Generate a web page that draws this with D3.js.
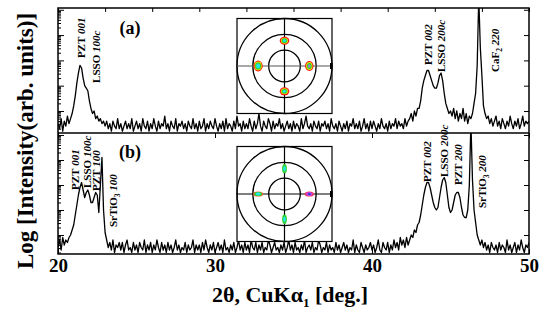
<!DOCTYPE html>
<html>
<head>
<meta charset="utf-8">
<script src="https://cdn.jsdelivr.net/npm/d3@7/dist/d3.min.js"></script>
<style>
  body { margin: 0; background: #fff; }
  svg { display: block; }
  text { font-family: "Liberation Serif", "Times New Roman", serif; font-weight: bold; fill: #000; }
</style>
</head>
<body>
<div id="chart"></div>
<script>
// 2-theta grid (deg), 0.1 deg step
const twoTheta = d3.range(0, 301).map(i => 20 + i / 10);

// log intensity, in tenths of a decade (panel a)
const logIntensityA = [
  5,3,7,2,6,4,8,5,7,9,
  12,16,21,25,28,27,23,20,19,18,
  14,11,9,10,7,8,6,7,5,6,
  4,6,3,5,2,6,4,3,7,3,
  5,2,4,6,3,5,3,7,2,4,
  6,3,5,2,7,4,3,6,2,5,
  3,7,4,2,6,3,5,4,8,3,
  5,2,6,4,3,7,2,5,4,6,
  3,5,2,6,4,3,7,3,5,2,
  6,3,4,7,2,5,3,6,4,3,
  7,4,2,5,3,6,2,7,3,5,
  4,2,6,3,8,4,5,2,6,3,
  5,3,7,4,2,6,3,5,9,4,
  2,6,4,3,7,5,2,6,3,5,
  4,7,3,5,2,4,6,3,5,2,
  6,3,5,4,2,7,3,5,8,4,
  3,5,2,6,4,3,6,2,5,4,
  6,3,5,2,7,4,3,5,2,6,
  4,2,5,3,6,2,5,4,7,3,
  5,3,6,2,4,7,3,5,2,6,
  3,6,4,2,5,3,7,4,3,5,
  2,6,3,5,4,7,3,6,4,5,
  3,7,4,6,7,9,6,10,8,11,
  11,14,19,22,24,26,26,24,22,20,
  19,19,21,24,25,22,17,13,11,9,
  10,8,11,7,10,6,9,7,11,6,
  9,5,8,7,9,13,17,28,55,35,
  24,12,9,7,8,5,7,4,6,8,
  4,6,3,7,5,3,6,4,8,5,
  3,6,4,7,3,5,8,4,6,5,
  6
];

// panel b
const logIntensityB = [
  5,8,4,9,6,8,7,9,10,12,
  14,18,22,26,29,31,28,25,27,28,
  26,23,23,25,27,26,19,30,41,20,
  11,8,5,7,4,8,3,6,5,7,
  4,7,3,6,8,4,5,3,7,4,
  6,3,7,5,4,8,3,6,4,7,
  3,6,4,8,5,3,7,4,6,3,
  7,4,6,3,5,8,4,6,3,5,
  4,7,3,6,4,5,8,3,6,4,
  6,3,7,4,8,5,3,6,4,7,
  3,5,7,4,6,3,8,4,5,3,
  6,4,7,3,5,8,4,6,3,7,
  4,6,3,8,5,4,7,3,6,4,
  7,3,5,4,8,6,3,5,7,4,
  5,3,6,4,7,3,5,8,4,6,
  3,7,4,5,3,6,4,8,3,5,
  6,4,7,3,5,4,8,6,3,5,
  4,7,3,6,4,5,3,7,4,6,
  3,5,7,4,6,3,5,4,8,3,
  6,4,3,7,5,3,6,4,5,7,
  4,6,3,5,8,4,3,7,5,4,
  7,3,6,4,8,5,7,4,9,6,
  8,5,9,6,8,10,9,12,11,14,
  15,18,22,26,29,31,31,29,26,23,
  21,20,21,25,29,32,33,31,26,21,
  19,20,23,26,27,27,25,21,18,17,
  17,20,30,55,32,20,15,10,8,6,
  8,5,7,4,6,3,7,5,4,6,
  3,7,4,6,5,3,8,4,6,3,
  5,7,3,6,4,8,5,3,6,5,
  7
];

const xTickValues = [20, 30, 40, 50];
const topTickValues = d3.range(20, 51, 3);

// peak labels: name, subscript, reflection, anchored at (2theta, log intensity)
const peaksA = [
  { name: "PZT", sub: "", hkl: "001", theta: 21.75, v: 30.9 },
  { name: "LSSO", sub: "", hkl: "100c", theta: 22.68, v: 21.1 },
  { name: "PZT", sub: "", hkl: "002", theta: 43.79, v: 28.2 },
  { name: "LSSO", sub: "", hkl: "200c", theta: 44.68, v: 25.4 },
  { name: "CaF", sub: "2", hkl: "220", theta: 48.06, v: 25.4 }
];
const peaksB = [
  { name: "PZT", sub: "", hkl: "001", theta: 21.31, v: 28.0 },
  { name: "LSSO", sub: "", hkl: "100c", theta: 22.13, v: 28.8 },
  { name: "PZT", sub: "", hkl: "100", theta: 22.68, v: 27.6 },
  { name: "SrTiO", sub: "3", hkl: "100", theta: 23.73, v: 13.2 },
  { name: "PZT", sub: "", hkl: "002", theta: 43.73, v: 31.2 },
  { name: "LSSO", sub: "", hkl: "200c", theta: 44.87, v: 33.2 },
  { name: "PZT", sub: "", hkl: "200", theta: 45.76, v: 30.0 },
  { name: "SrTiO", sub: "3", hkl: "200", theta: 47.29, v: 20.8 }
];

// pole figure insets: chi rings and spots (phi, chi in degrees)
const chiRings = [30, 60, 90];
const spotPhi = [90, 180, 0, 270];
const spotChiA = [48, 50, 47, 48];
const spotChiB = [48, 50, 47, 48];

const width = 542, height = 331;
const svg = d3.select("#chart").append("svg")
  .attr("width", width).attr("height", height);
svg.append("rect").attr("width", width).attr("height", height).attr("fill", "#fff");

const x = d3.scaleLinear().domain([20, 50]).range([58, 529]);
const yA = d3.scaleLinear().domain([1.3, 50.7]).range([133, 8]);
const yB = d3.scaleLinear().domain([2.4, 50.8]).range([254, 133]);

const majorLog = d => d3.range(10, 60, 10).filter(v => v >= d[0] && v <= d[1]);
const minorLog = d => d3.range(0, 6).flatMap(k => d3.range(2, 10).map(m => 10 * k + 10 * Math.log10(m)))
  .filter(v => v >= d[0] && v <= d[1]);

const panels = [
  { id: "a", y: yA, values: logIntensityA, peaks: peaksA, tag: "(a)", tagY: 34 },
  { id: "b", y: yB, values: logIntensityB, peaks: peaksB, tag: "(b)", tagY: 158 }
];

panels.forEach(p => {
  const [y0, y1] = p.y.range();
  svg.append("clipPath").attr("id", "clip-" + p.id)
    .append("rect")
    .attr("x", x(20)).attr("y", y1)
    .attr("width", x(50) - x(20)).attr("height", y0 - y1);

  const line = d3.line()
    .x((d, i) => x(twoTheta[i]))
    .y(d => p.y(d));

  svg.append("path")
    .datum(p.values)
    .attr("clip-path", `url(#clip-${p.id})`)
    .attr("fill", "none")
    .attr("stroke", "#000")
    .attr("stroke-width", 1.3)
    .attr("stroke-linejoin", "round")
    .attr("d", line);

  // left log ticks
  svg.append("g").attr("transform", `translate(${x(20)},0)`)
    .call(d3.axisLeft(p.y).tickValues(majorLog(p.y.domain())).tickSize(-6).tickFormat(""))
    .call(g => g.select(".domain").remove());
  svg.append("g").attr("transform", `translate(${x(20)},0)`)
    .call(d3.axisLeft(p.y).tickValues(minorLog(p.y.domain())).tickSize(-3).tickFormat(""))
    .call(g => g.select(".domain").remove());
  // right ticks
  svg.append("g").attr("transform", `translate(${x(50)},0)`)
    .call(d3.axisRight(p.y).tickValues(majorLog(p.y.domain())).tickSize(-5).tickFormat(""))
    .call(g => g.select(".domain").remove());

  // peak labels
  p.peaks.forEach(pk => {
    const t = svg.append("text")
      .attr("transform", `translate(${x(pk.theta)},${p.y(pk.v)}) rotate(-90)`)
      .attr("font-size", 11);
    t.append("tspan").text(pk.name);
    if (pk.sub) {
      t.append("tspan").attr("font-size", 7.5).attr("dy", 3).text(pk.sub);
      t.append("tspan").attr("dy", -3).attr("font-style", "italic").text("\u00a0" + pk.hkl);
    } else {
      t.append("tspan").attr("font-style", "italic").text("\u00a0" + pk.hkl);
    }
  });

  svg.append("text")
    .attr("x", 130).attr("y", p.tagY)
    .attr("text-anchor", "middle")
    .attr("font-size", 18)
    .text(p.tag);
});

// top axis ticks
svg.append("g").attr("transform", `translate(0,${yA.range()[1]})`)
  .call(d3.axisTop(x).tickValues(topTickValues).tickSize(-4).tickFormat(""))
  .call(g => g.select(".domain").remove());
// middle separator ticks
svg.append("g").attr("transform", `translate(0,${yA.range()[0]})`)
  .call(d3.axisTop(x).tickValues(xTickValues).tickSize(-5).tickFormat(""))
  .call(g => g.select(".domain").remove());
// bottom axis
const bottomAxis = svg.append("g").attr("transform", `translate(0,${yB.range()[0]})`)
  .call(d3.axisBottom(x).tickValues(xTickValues).tickSize(-5).tickPadding(5).tickFormat(d3.format("d")))
  .call(g => g.select(".domain").remove());
bottomAxis.selectAll("text")
  .attr("font-size", 19)
  .attr("font-family", "\"Liberation Serif\", \"Times New Roman\", serif")
  .attr("font-weight", "bold")
  .attr("fill", "#000");
svg.selectAll(".tick line").attr("stroke", "#000").attr("stroke-width", 1);

// frame
svg.append("rect")
  .attr("x", x(20)).attr("y", yA.range()[1])
  .attr("width", x(50) - x(20)).attr("height", yB.range()[0] - yA.range()[1])
  .attr("fill", "none").attr("stroke", "#000").attr("stroke-width", 1.5);
svg.append("line")
  .attr("x1", x(20)).attr("x2", x(50))
  .attr("y1", yA.range()[0]).attr("y2", yA.range()[0])
  .attr("stroke", "#000").attr("stroke-width", 1.5);

// pole figure insets
const insets = [
  { cx: 284.5, cy: 66, chi: spotChiA, kind: "a" },
  { cx: 284.5, cy: 194, chi: spotChiB, kind: "b" }
];
const rScale = d3.scaleLinear().domain([0, 90]).range([0, 47.5]);
const spotStylesA = [
  [["#ff1010", 4.8, 4], ["#e0e000", 3.6, 3], ["#30d030", 2.7, 2.3], ["#20e8e8", 1.6, 1.4]],
  [["#ff1010", 4.6, 5.4], ["#e0e000", 3.7, 4.4], ["#30d030", 3, 3.5], ["#20e8e8", 2, 2.5]],
  [["#ff1010", 4.2, 5], ["#e0e000", 3.2, 4], ["#30d030", 2.3, 3], ["#a080e0", 1.3, 1.8]],
  [["#ff1010", 4.8, 4], ["#e0e000", 3.6, 3], ["#30d030", 2.7, 2.3], ["#20e8e8", 1.6, 1.4]]
];
const spotStylesB = [
  [["#30d030", 2.4, 4.6], ["#20e8e8", 1.3, 2.6]],
  [["#ff6020", 5, 2.6], ["#30d030", 4, 2.1], ["#20e8e8", 2.6, 1.4]],
  [["#ff3030", 4.6, 2.6], ["#d040e0", 3.6, 2], ["#4040e0", 1.6, 1.2]],
  [["#30d030", 2.4, 4.8], ["#20e8e8", 1.3, 2.8]]
];

insets.forEach(ins => {
  const g = svg.append("g").attr("transform", `translate(${ins.cx},${ins.cy})`);
  const R = rScale(90);
  g.append("rect").attr("x", -R).attr("y", -R).attr("width", 2 * R).attr("height", 2 * R)
    .attr("fill", "#fff").attr("stroke", "#000").attr("stroke-width", 1.2);
  g.selectAll("circle.ring").data(chiRings).join("circle")
    .attr("class", "ring")
    .attr("r", d => rScale(d))
    .attr("fill", "none").attr("stroke", "#000").attr("stroke-width", 1.3);
  g.append("line").attr("x1", -R).attr("x2", R).attr("y1", 0).attr("y2", 0)
    .attr("stroke", ins.kind === "a" ? "#555" : "#000").attr("stroke-width", 1.2);
  g.append("line").attr("x1", 0).attr("x2", 0).attr("y1", -R).attr("y2", R)
    .attr("stroke", "#000").attr("stroke-width", 1.2);
  g.append("rect").attr("x", R - 2).attr("y", -3).attr("width", 2.5).attr("height", 6).attr("fill", "#000");

  const styles = ins.kind === "a" ? spotStylesA : spotStylesB;
  spotPhi.forEach((phi, i) => {
    const r = rScale(ins.chi[i]);
    const sx = r * Math.cos(phi * Math.PI / 180);
    const sy = -r * Math.sin(phi * Math.PI / 180);
    styles[i].forEach(([c, rx, ry]) => {
      g.append("ellipse").attr("cx", sx).attr("cy", sy)
        .attr("rx", rx).attr("ry", ry).attr("fill", c);
    });
  });
});

// axis titles
svg.append("text")
  .attr("transform", "translate(33,141) rotate(-90)")
  .attr("text-anchor", "middle")
  .attr("font-size", 23)
  .text("Log [Intensity(arb. units)]");

const xt = svg.append("text")
  .attr("x", 290).attr("y", 302)
  .attr("text-anchor", "middle")
  .attr("font-size", 22);
xt.append("tspan").text("2\u03b8, CuK\u03b1");
xt.append("tspan").attr("font-size", 13).attr("dy", 5).text("1");
xt.append("tspan").attr("dy", -5).text(" [deg.]");
</script>
</body>
</html>
